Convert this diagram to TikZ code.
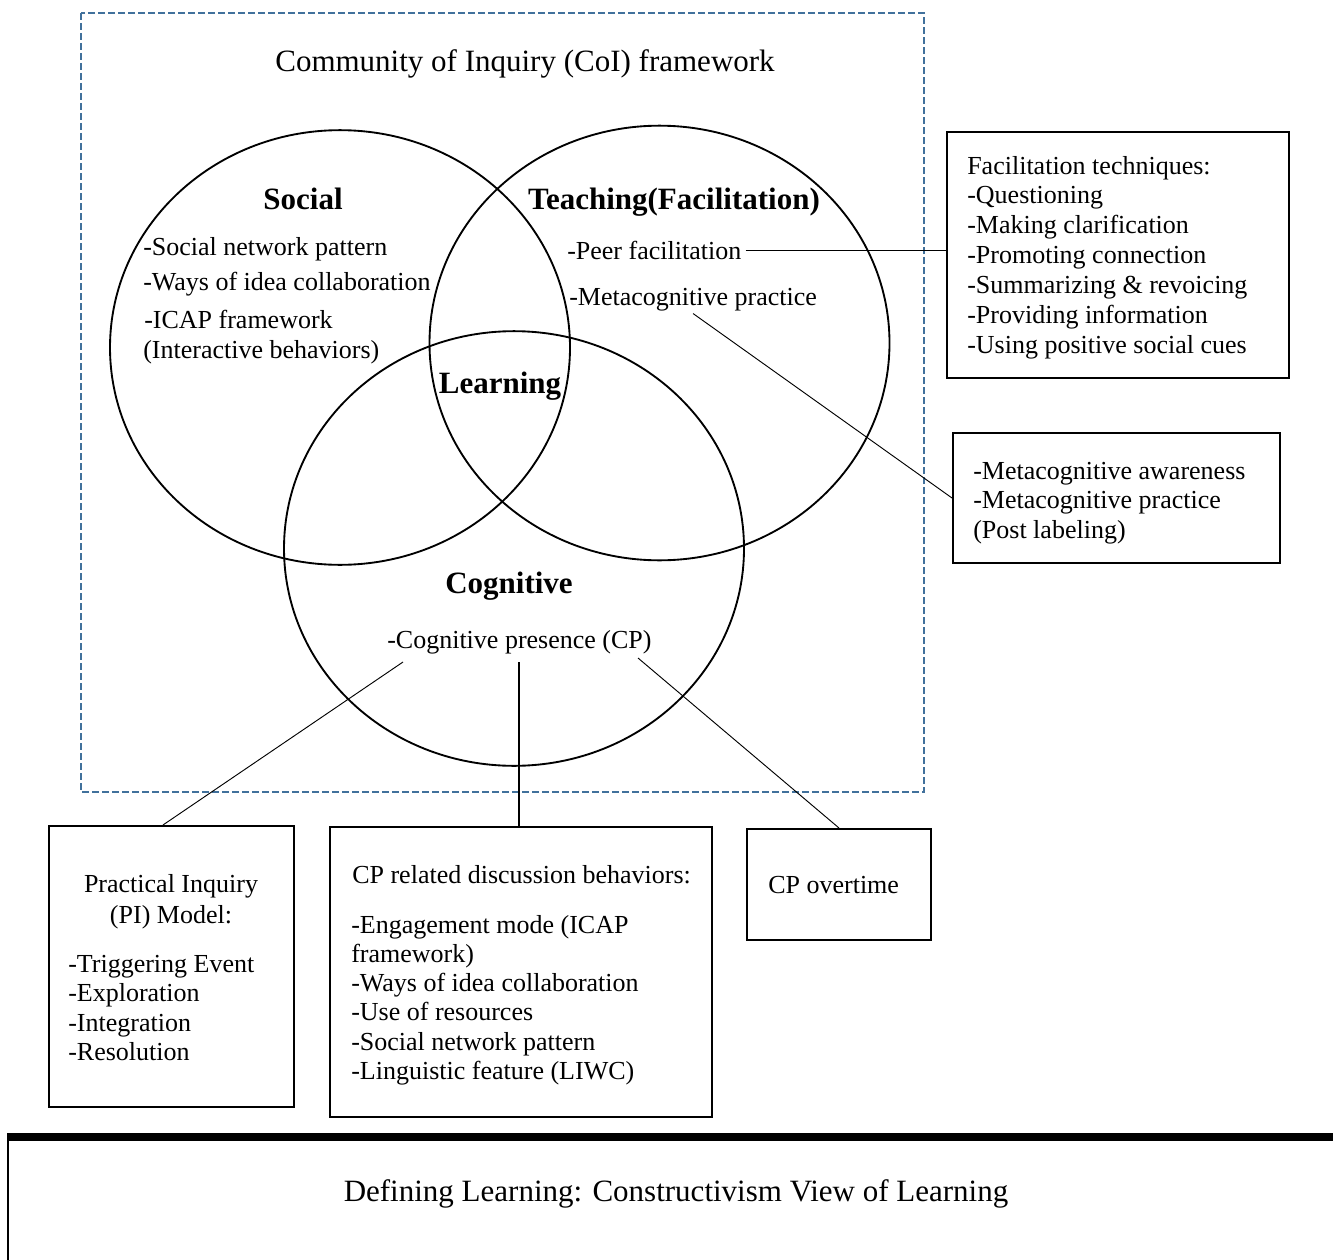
\documentclass[tikz,border=0pt]{standalone}
\usepackage{fontspec}
\setmainfont{Liberation Serif}
\usetikzlibrary{calc,shapes.geometric}
\definecolor{frameblue}{RGB}{65,113,156}
\begin{document}
\begin{tikzpicture}[x=0.75pt,y=-0.75pt,
  body/.style={font=\fontsize{19.5}{22.5}\selectfont, inner sep=0pt, anchor=base west},
  bodyc/.style={font=\fontsize{19.5}{22.5}\selectfont, inner sep=0pt, anchor=base},
  head/.style={font=\fontsize{23.25}{27}\selectfont\bfseries, inner sep=0pt, anchor=base},
  big/.style={font=\fontsize{23.25}{27}\selectfont, inner sep=0pt, anchor=base},
  circ/.style={draw, ellipse, line width=1.4pt, inner sep=0pt, minimum width=345pt, minimum height=326pt},
  box/.style={draw, rectangle, line width=1.5pt, inner sep=0pt},
  conn/.style={line width=0.7pt},
  connthick/.style={line width=1.3pt},
]
\useasboundingbox (0,0) rectangle (1333,1259);

% dashed frame
\draw[frameblue, line width=1.5pt, dash pattern=on 5.25pt off 2.25pt] (81,13) rectangle (924,792);
\node[big] (title) at (525,72) {Community of Inquiry (CoI) framework};

% circles
\node[circ] (soc) at (340,347.5) {};
\node[circ] (tea) at (659.5,343) {};
\node[circ] (cog) at (514,548.5) {};

% circle texts
\node[head] (hsoc) at (303,209) {Social};
\node[head] (htea) at (674,209) {Teaching(Facilitation)};
\node[head] (hlea) at (500,393) {Learning};
\node[head] (hcog) at (509,593) {Cognitive};

\node[body] (s1) at (143,255) {-Social network pattern};
\node[body] (s2) at (143,290) {-Ways of idea collaboration};
\node[body] (s3) at (144,328) {-ICAP framework};
\node[body] (s4) at (143,358) {(Interactive behaviors)};

\node[body] (pf) at (567,259) {-Peer facilitation};
\node[body] (mp) at (569,305) {-Metacognitive practice};
\node[body] (cp) at (387,648) {-Cognitive presence (CP)};

% boxes
\node[box, minimum width=256.5pt, minimum height=184.5pt] (fac) at (1118,255) {};
\node[box, minimum width=245.25pt, minimum height=97.5pt] (meta) at (1116.5,498) {};
\node[box, minimum width=183.75pt, minimum height=210.75pt] (pi) at (171.5,966.5) {};
\node[box, minimum width=286.5pt, minimum height=217.5pt] (cpr) at (521,972) {};
\node[box, minimum width=138pt, minimum height=83.25pt] (cpo) at (839,884.5) {};

% facilitation box text
\node[body] (f1) at (967,174) {Facilitation techniques:};
\node[body] (f2) at (967,203.5) {-Questioning};
\node[body] (f3) at (967,233) {-Making clarification};
\node[body] (f4) at (967,263) {-Promoting connection};
\node[body] (f5) at (967,293) {-Summarizing \& revoicing};
\node[body] (f6) at (967,323) {-Providing information};
\node[body] (f7) at (967,353) {-Using positive social cues};

% metacognitive box text
\node[body] (m1) at (973,479) {-Metacognitive awareness};
\node[body] (m2) at (973,508) {-Metacognitive practice};
\node[body] (m3) at (973,538) {(Post labeling)};

% PI box text
\node[bodyc] (p1) at (171,892) {Practical Inquiry};
\node[bodyc] (p2) at (171,923) {(PI) Model:};
\node[body] (p3) at (68,972) {-Triggering Event};
\node[body] (p4) at (68,1001.5) {-Exploration};
\node[body] (p5) at (68,1031) {-Integration};
\node[body] (p6) at (68,1060) {-Resolution};

% CP related box text
\node[body] (c1) at (352,883) {CP related discussion behaviors:};
\node[body] (c2) at (351,933) {-Engagement mode (ICAP};
\node[body] (c3) at (351,962) {framework)};
\node[body] (c4) at (351,991) {-Ways of idea collaboration};
\node[body] (c5) at (351,1020.5) {-Use of resources};
\node[body] (c6) at (351,1050) {-Social network pattern};
\node[body] (c7) at (351,1079) {-Linguistic feature (LIWC)};

% CP overtime
\node[body] (o1) at (768,893) {CP overtime};

% connectors
\draw[conn] ([xshift=3pt]pf.east) -- (pf.east -| fac.west);
\draw[conn] ([yshift=-2pt]mp.south) -- (meta.west);
\coordinate (cpL) at (403,662);
\coordinate (cpM) at (519,662);
\coordinate (cpR) at (638,658);
\draw[conn] (cpL) -- ([xshift=-6.4pt]pi.north);
\draw[connthick] (cpM) -- (cpM |- cpr.north);
\draw[conn] (cpR) -- (cpo.north);

% bottom bar
\draw[line width=1.5pt] (8,1270) -- (8,1137);
\draw[line width=5.5pt] (7,1137) -- (1345,1137);
\node[big] (def) at (676,1201) {Defining Learning: Constructivism View of Learning};
\end{tikzpicture}
\end{document}
